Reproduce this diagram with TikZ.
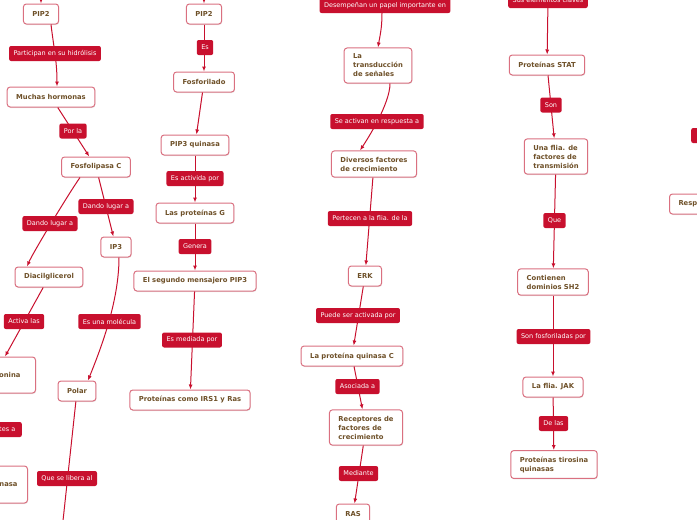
\documentclass[tikz,border=0pt]{standalone}
\usepackage{fontspec}
\setmainfont{DejaVu Sans}
\usetikzlibrary{arrows.meta,shadows}
\definecolor{mapred}{RGB}{200,16,46}
\definecolor{boxline}{RGB}{218,112,128}
\definecolor{boxtext}{RGB}{110,80,40}
\tikzset{
  box/.style={draw=boxline, line width=1pt, fill=white, rounded corners=3pt, align=left,
    inner xsep=9pt, inner ysep=6pt, minimum height=20pt, text=boxtext,
    font=\fontsize{6.8}{9}\selectfont\bfseries,
    drop shadow={shadow xshift=0.5pt, shadow yshift=-1pt, opacity=0.2}},
  lbl/.style={fill=mapred, rounded corners=2pt, text=white, inner xsep=4.5pt, inner ysep=0pt,
    minimum height=15pt, font=\fontsize{6.5}{8}\selectfont},
  conn/.style={draw=mapred, line width=1pt, -{Latex[length=5pt,width=4pt]}}
}
\begin{document}
\begin{tikzpicture}[x=1pt,y=-1pt]
\useasboundingbox (0,0) rectangle (697,520);
\clip (0,0) rectangle (697,520);
\node[box] (PA) at (41,14) {PIP2};
\node[box] (MH) at (51,97) {Muchas hormonas};
\node[box] (FC) at (96,167) {Fosfolipasa C};
\node[box] (DG) at (49,277) {Diacilglicerol};
\node[box] (IP) at (116,247) {IP3};
\node[box, anchor=east, minimum height=36pt, text width=60pt, align=right] (ON) at (36,375) {onina\hspace*{6pt}};
\node[box, anchor=east, minimum height=37pt, text width=60pt, align=right] (NA) at (28,484.5) {nasa\hspace*{1pt}};
\node[box] (PO) at (77,391) {Polar};
\coordinate (PE) at (62,530);
\node[box] (PB) at (204,14) {PIP2};
\node[box] (FO) at (204,82) {Fosforilado};
\node[box] (PQ) at (195,145) {PIP3 quinasa};
\node[box] (PG) at (195,213) {Las proteínas G};
\node[box] (SM) at (195,281) {El segundo mensajero PIP3};
\node[box] (IR) at (190,400) {Proteínas como IRS1 y Ras};
\node[box] (TS) at (378,65.5) {La\\transducción\\de señales};
\node[box] (DF) at (374,164) {Diversos factores\\de crecimiento};
\node[box] (ER) at (365,276) {ERK};
\node[box] (KC) at (352,356) {La proteína quinasa C};
\node[box] (RF) at (366,427.5) {Receptores de\\factores de\\crecimiento};
\node[box] (RA) at (353,514) {RAS};
\node[box] (ST) at (547,65) {Proteínas STAT};
\node[box] (UF) at (556,156.5) {Una flia. de\\factores de\\transmisión};
\node[box] (CD) at (553,282) {Contienen\\dominios SH2};
\node[box] (JK) at (553,387) {La flia. JAK};
\node[box] (TQ) at (554,464.5) {Proteínas tirosina\\quinasas};
\node[box, anchor=west, text width=40pt] (RP) at (669,204) {Resp};
\coordinate (TA) at (41,-10);
\coordinate (TB) at (204,-10);
\draw[conn] (TA) -- (PA);
\draw[conn] ([xshift=10pt]PA.south) .. controls +(3,25) and +(0,-25) .. ([xshift=6pt]MH.north);
\draw[conn] (MH) -- (FC);
\draw[conn] ([xshift=-16pt]FC.south) .. controls +(-10,14) and +(6,-14) .. ([xshift=-22pt]DG.north);
\draw[conn] (FC) -- (IP);
\draw[conn] (DG) -- ([xshift=-31pt]ON.north east);
\draw[conn] ([xshift=3pt]IP.south) .. controls +(0,45) and +(12,-30) .. ([xshift=11pt]PO.north);
\draw[draw=mapred, line width=1pt] (PO) -- (PE);
\draw[conn] (TB) -- (PB);
\draw[conn] (PB) -- (FO);
\draw[conn] (FO) -- (PQ);
\draw[conn] (PQ) -- (PG);
\draw[conn] (PG) -- (SM);
\draw[conn] (SM) -- (IR);
\draw[conn] ([xshift=12pt]TS.south) .. controls +(0,20) and +(8,-12) .. ([xshift=-14pt]DF.north);
\draw[conn] (DF) -- (ER);
\draw[conn] (ER) -- (KC);
\draw[conn] (KC) -- (RF);
\draw[conn] (RF) -- (RA);
\draw[conn] (ST) -- (UF);
\draw[conn] (UF) -- (CD);
\draw[conn] (CD) -- (JK);
\draw[conn] (JK) -- (TQ);
\node[lbl] (L1) at (55,53.5) {Participan en su hidrólisis};
\node[lbl] (L2) at (73,131) {Por la};
\node[lbl] (L3) at (50,223.5) {Dando lugar a};
\node[lbl] (L4) at (106,206.5) {Dando lugar a};
\node[lbl] (L5) at (24,321.5) {Activa las};
\node[lbl] (L6) at (109.5,321.5) {Es una molécula};
\node[lbl, anchor=east, text width=30pt, align=right] (L7) at (22,429.5) {tes a\hspace*{2pt}};
\node[lbl] (L8) at (67,478.5) {Que se libera al};
\node[lbl] (L9) at (205,47.5) {Es};
\node[lbl] (L10) at (195,178.5) {Es activida por};
\node[lbl] (L11) at (195,246.5) {Genera};
\node[lbl] (L12) at (192,340) {Es mediada por};
\node[lbl] (L13) at (385,5.5) {Desempeñan un papel importante en};
\node[lbl] (L14) at (377,121.5) {Se activan en respuesta a};
\node[lbl] (L15) at (370,218.5) {Pertecen a la flia. de la};
\node[lbl] (L16) at (358,315.5) {Puede ser activada por};
\node[lbl] (L17) at (357.5,386.5) {Asociada a};
\node[lbl] (L18) at (358.5,473.5) {Mediante};
\node[lbl] (L19) at (548,0.5) {Sus elementos claves};
\node[lbl] (L20) at (551,105) {Son};
\node[lbl] (L21) at (554.5,220.5) {Que};
\node[lbl] (L22) at (553.5,336.5) {Son fosforiladas por};
\node[lbl] (L23) at (553.5,423.5) {De las};
\node[lbl, anchor=west, minimum width=30pt] (L24) at (691,135.5) {};
\draw[conn] ([xshift=-3pt]L13.south) .. controls +(0,15) and +(2,-12) .. (TS.north);
\draw[conn] (L19) -- (ST);
\end{tikzpicture}
\end{document}
